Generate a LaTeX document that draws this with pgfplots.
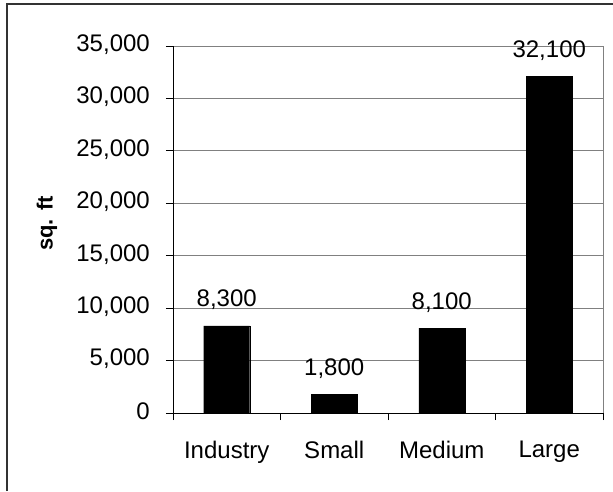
\documentclass[border=0pt]{standalone}
\usepackage{pgfplots}
\pgfplotsset{compat=1.18}
\usepackage{fontspec}
\setmainfont{Liberation Sans}
\begin{document}
\fontsize{24}{28}\selectfont
\begin{tikzpicture}[x=1pt,y=1pt]
\path[use as bounding box] (-173,-78) rectangle (440,413);
\draw[color=black!80, line width=1.5pt] (-166,-78) -- (-166,409) -- (440,409);
\begin{axis}[
  at={(0,0)}, anchor=south west,
  scale only axis,
  width=430pt, height=367pt,
  xmin=-0.5, xmax=3.5,
  ymin=0, ymax=35000,
  ytick={0,5000,...,35000},
  xtick={0,1,2,3},
  xticklabels={Industry,Small,Medium,Large},
  minor xtick={-0.5,0.5,1.5,2.5,3.5},
  major x tick style={draw=none},
  tick align=outside,
  major tick length=7pt,
  minor tick length=7pt,
  axis x line*=bottom,
  axis y line*=left,
  axis line style={black, line width=0.8pt},
  ymajorgrids,
  grid style={color=gray, line width=0.8pt},
  tick style={black, line width=0.8pt},
  /pgf/number format/assume math mode=true,
  /pgf/number format/1000 sep={,},
  scaled y ticks=false,
  tick label style={font=\fontsize{24}{28}\selectfont},
  yticklabel style={xshift=-8pt, yshift=1.5pt},
  xticklabel style={yshift=-13pt},
  ylabel={\bfseries sq. ft},
  every axis y label/.style={at={(axis description cs:-0.293,0.516)}, rotate=90, anchor=center, font=\fontsize{22}{26}\selectfont},
  ybar,
  bar width=46pt,
  nodes near coords,
  every node near coord/.append style={anchor=base, inner sep=0pt, yshift=19pt, font=\fontsize{24}{28}\selectfont, /pgf/number format/assume math mode=true, /pgf/number format/1000 sep={,}},
  clip=false,
]
\addplot[fill=black, draw=black] coordinates {(0,8300) (1,1800) (2,8100) (3,32100)};
\draw[gray, line width=0.8pt] (rel axis cs:1,0) -- (rel axis cs:1,1);
\end{axis}
\end{tikzpicture}
\end{document}
